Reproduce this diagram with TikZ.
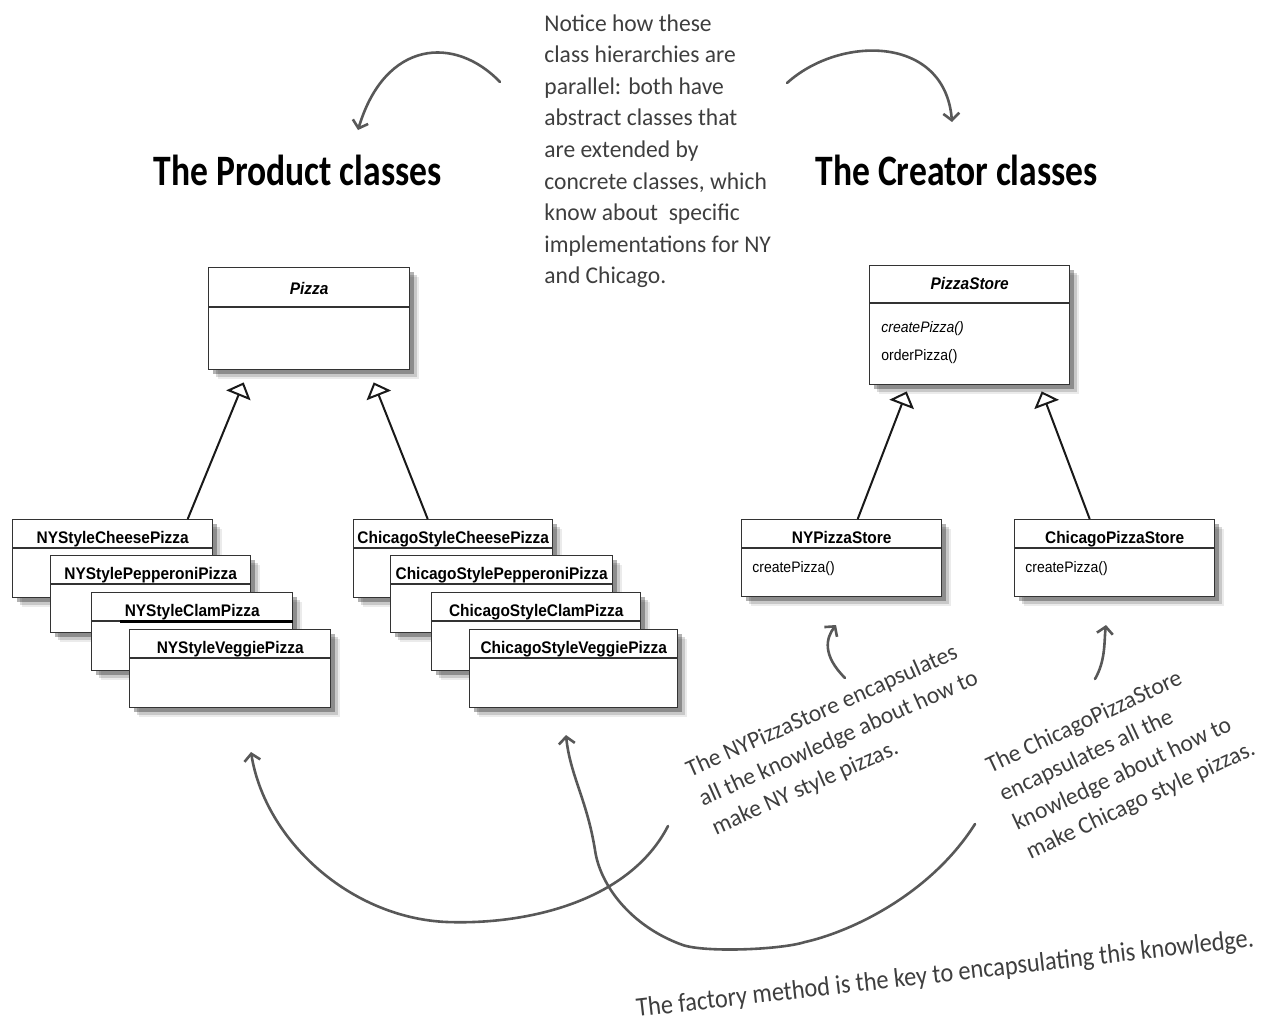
\documentclass[tikz,border=0pt]{standalone}
\usepackage{fontspec}
\setmainfont{Liberation Sans}
\newfontfamily\umlfont{Liberation Sans}[FakeStretch=0.92]
\newfontfamily\handfont{Carlito}[FakeStretch=0.98]
\newfontfamily\keyfont{Carlito}[FakeStretch=0.9]
\newfontfamily\titlefont{Carlito}[FakeStretch=0.82]
\usetikzlibrary{arrows.meta, positioning, calc, shadows}
\definecolor{sketchgray}{RGB}{88, 88, 88}
\definecolor{notegray}{RGB}{62, 62, 62}

% class box: name, x, y (top left), width, height, header height, title baseline, title
\newcommand{\umlclass}[8]{%
    \node[classbox, minimum width={#4*0.5pt}, minimum height={#5*0.5pt}, anchor=north west] (#1) at (#2,#3) {};
    \draw[classline] ([yshift={-#6*0.5pt}]#1.north west) -- ([yshift={-#6*0.5pt}]#1.north east);
    \node[classname] (#1-title) at ([yshift={-#7*0.5pt}]#1.north) {#8};
}

\begin{document}
\begin{tikzpicture}[
    x=0.5pt, y=-0.5pt,
    classbox/.style={rectangle, draw=black!80, line width=0.7pt, fill=white, inner sep=0pt,
        drop shadow={shadow xshift=4.5pt, shadow yshift=-4.5pt, fill=black, opacity=0.08},
        drop shadow={shadow xshift=3.5pt, shadow yshift=-3.5pt, fill=black, opacity=0.15},
        drop shadow={shadow xshift=2pt, shadow yshift=-2pt, fill=black, opacity=0.3}},
    classline/.style={draw=black!80, line width=0.7pt},
    classname/.style={font=\umlfont\bfseries\fontsize{8.4}{10}\selectfont, inner sep=0pt, anchor=base},
    method/.style={font=\umlfont\fontsize{7.6}{9}\selectfont, inner sep=0pt, anchor=west},
    inherit/.style={draw=black!90, line width=1pt, -{Triangle[open, length=7pt, width=13pt]}},
    sketch/.style={draw=sketchgray, line width=1.3pt, line cap=round, -{Straight Barb[length=3.5pt, width=8pt]}},
    handnote/.style={font=\handfont\fontsize{12}{15.8}\selectfont, text=notegray, align=left, inner sep=0pt},
    heading/.style={font=\titlefont\bfseries\fontsize{21.7}{24}\selectfont, inner sep=0pt, anchor=base west}
]
    \useasboundingbox (0,0) rectangle (1264,1024);

    % headings and the top note
    \node[heading] (product) at (153,185) {The Product classes};
    \node[heading] (creator) at (815,185) {The Creator classes};
    \node[handnote, anchor=north west] (parallel) at (544,14) {Notice how these\\class hierarchies are\\parallel: both have\\abstract classes that\\are extended by\\concrete classes, which\\know about\ \ specific\\implementations for NY\\and Chicago.};

    % product classes
    \umlclass{pizza}{208}{267}{201}{102}{40}{27}{\textit{Pizza}}
    \umlclass{nycheese}{12}{519}{200}{78}{29}{24}{NYStyleCheesePizza}
    \umlclass{nypepperoni}{50}{555}{200}{77}{29}{24}{NYStylePepperoniPizza}
    \umlclass{nyclam}{91}{592}{201}{78}{29}{24}{NYStyleClamPizza}
    \draw[line width=1.5pt] ([xshift=14.5pt, yshift=-14.5pt]nyclam.north west) -- ([yshift=-14.5pt]nyclam.north east);
    \umlclass{nyveggie}{129}{629}{201}{78}{29}{24}{NYStyleVeggiePizza}
    \umlclass{chicheese}{353}{519}{199}{78}{29}{24}{ChicagoStyleCheesePizza}
    \umlclass{chipepperoni}{390}{555}{222}{77}{29}{24}{ChicagoStylePepperoniPizza}
    \umlclass{chiclam}{431}{592}{209}{78}{29}{24}{ChicagoStyleClamPizza}
    \umlclass{chiveggie}{469}{629}{208}{78}{29}{24}{ChicagoStyleVeggiePizza}

    % creator classes
    \umlclass{store}{869}{265}{200}{119}{38}{24}{\textit{PizzaStore}}
    \node[method] (storecreate) at (881,329) {\textit{createPizza()}};
    \node[method] (storeorder) at (881,357) {orderPizza()};
    \umlclass{nystore}{741}{519}{200}{77}{29}{24}{NYPizzaStore}
    \node[method] (nycreate) at (752,569) {createPizza()};
    \umlclass{chistore}{1014}{519}{200}{77}{29}{24}{ChicagoPizzaStore}
    \node[method] (chicreate) at (1025,569) {createPizza()};

    \draw[inherit] ([xshift=37.5pt]nycheese.north) -- ([xshift=-32.75pt, yshift=-6pt]pizza.south);
    \draw[inherit] ([xshift=-12.75pt]chicheese.north) -- ([xshift=32.25pt, yshift=-6pt]pizza.south);
    \draw[inherit] ([xshift=8pt]nystore.north) -- ([xshift=-31.5pt, yshift=-3pt]store.south);
    \draw[inherit] ([xshift=-12.5pt]chistore.north) -- ([xshift=36pt, yshift=-3pt]store.south);

    % notes below
    \node[handnote, anchor=north west, rotate=24] (nynote) at (683,762) {The NYPizzaStore encapsulates\\all the knowledge about how to\\make NY style pizzas.};
    \node[handnote, anchor=north west, rotate=25] (chinote) at (983,758) {The ChicagoPizzaStore\\encapsulates all the\\knowledge about how to\\make Chicago style pizzas.};
    \node[handnote, font=\keyfont\fontsize{13.5}{16}\selectfont, anchor=base west, rotate=6.5] (keynote) at (637,1017) {The factory method is the key to encapsulating this knowledge.};

    % hand drawn arrows
    \coordinate (leftstart) at (500,82);
    \coordinate (leftend) at (358,130);
    \coordinate (rightstart) at (787,83);
    \coordinate (rightend) at (952,122);
    \coordinate (nyup) at (845,678);
    \coordinate (nyuptip) at (836,625);
    \coordinate (chiup) at (1095,679);
    \coordinate (chiuptip) at (1106,625);
    \coordinate (nytail) at (668,826);
    \coordinate (nyhead) at (251,752);
    \coordinate (chitail) at (975,824);
    \coordinate (chihead) at (566,735);

    \draw[sketch] (leftstart) .. controls (455,35) and (385,40) .. (leftend);
    \draw[sketch] (rightstart) .. controls (840,35) and (945,35) .. (rightend);
    \draw[sketch] (nyup) .. controls (822,655) and (826,638) .. (nyuptip);
    \draw[sketch] (chiup) .. controls (1106,660) and (1104,640) .. (chiuptip);
    \draw[sketch] (nytail) .. controls (630,900) and (530,925) .. (447,922) .. controls (350,918) and (265,840) .. (nyhead);
    \draw[sketch] (chitail) .. controls (930,895) and (850,932) .. (805,942) .. controls (780,950) and (700,953) .. (680,944) .. controls (630,925) and (600,885) .. (595,850) .. controls (587,800) and (570,775) .. (chihead);
\end{tikzpicture}
\end{document}
